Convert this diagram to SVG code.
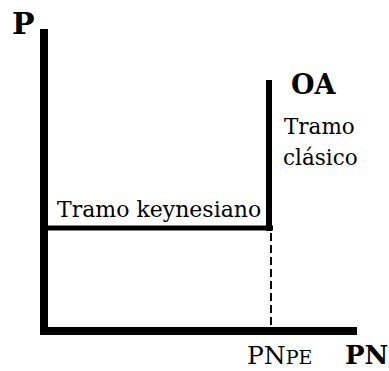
<svg xmlns="http://www.w3.org/2000/svg" width="389" height="371" viewBox="0 0 389 371">
<style>
.t{font-family:"DejaVu Serif","Liberation Serif",serif;fill:#000}
.b{font-weight:bold}
.ax{fill:#000}
</style>
<rect width="389" height="371" fill="#fff"/>
<g id="axes">
<rect class="ax" x="40" y="29" width="8" height="306"/>
<rect class="ax" x="40" y="327" width="317" height="8"/>
<text class="t b" x="12" y="34" font-size="30">P</text>
<text class="t b" x="345" y="364" font-size="26">PN</text>
</g>
<g id="connectors">
<line x1="40" y1="228" x2="273" y2="228" stroke="#000" stroke-width="5"/>
<line x1="269" y1="80" x2="269" y2="231" stroke="#000" stroke-width="6"/>
<line x1="271" y1="233" x2="271" y2="327" stroke="#000" stroke-width="2" stroke-dasharray="8,4"/>
</g>
<g id="keynesiano">
<text class="t" x="57" y="217" font-size="22">Tramo keynesiano</text>
</g>
<g id="OA">
<text class="t b" x="291" y="94" font-size="27">OA</text>
<text class="t" x="284" y="134" font-size="21.5">Tramo</text>
<text class="t" x="283" y="165" font-size="21.5">clásico</text>
</g>
<g id="PNPE">
<text class="t" x="247" y="364" font-size="25">PN<tspan font-size="19">PE</tspan></text>
</g>
</svg>
